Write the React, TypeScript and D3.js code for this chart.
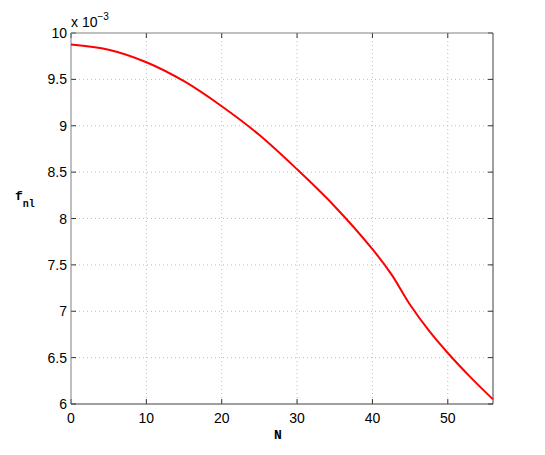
import React, { useEffect, useRef } from 'react';
import * as d3 from 'd3';

const nValues = [0, 5, 10, 15, 20, 25, 30, 35, 40, 42.5, 45, 47.5, 50, 53, 56];
const fnlValues = [9.875, 9.82, 9.685, 9.48, 9.21, 8.9, 8.53, 8.13, 7.67, 7.4, 7.07, 6.79, 6.55, 6.29, 6.05];
const xTicks = [0, 10, 20, 30, 40, 50];
const yTicks = [6, 6.5, 7, 7.5, 8, 8.5, 9, 9.5, 10];

const width = 545, height = 455;
const margin = { left: 71, right: 52, top: 33, bottom: 51 };

const App = () => {
    const ref = useRef<SVGGElement>(null);

    useEffect(() => {
        const w = width - margin.left - margin.right;
        const h = height - margin.top - margin.bottom;
        const x = d3.scaleLinear().domain([0, 56]).range([0, w]);
        const y = d3.scaleLinear().domain([6, 10]).range([h, 0]);

        const g = d3.select(ref.current);
        g.selectAll('*').remove();

        // grid
        g.selectAll('.gx').data(xTicks.slice(1)).enter().append('line')
            .attr('x1', d => x(d)).attr('x2', d => x(d))
            .attr('y1', 0).attr('y2', h)
            .attr('stroke', '#bdbdbd').attr('stroke-dasharray', '1,3');
        g.selectAll('.gy').data(yTicks.slice(1, -1)).enter().append('line')
            .attr('y1', d => y(d)).attr('y2', d => y(d))
            .attr('x1', 0).attr('x2', w)
            .attr('stroke', '#bdbdbd').attr('stroke-dasharray', '1,3');

        // inward ticks, all four sides
        const tl = 5;
        xTicks.forEach(t => {
            g.append('line').attr('x1', x(t)).attr('x2', x(t)).attr('y1', h).attr('y2', h - tl).attr('stroke', '#333');
            g.append('line').attr('x1', x(t)).attr('x2', x(t)).attr('y1', 0).attr('y2', tl).attr('stroke', '#333');
        });
        yTicks.forEach(t => {
            g.append('line').attr('y1', y(t)).attr('y2', y(t)).attr('x1', 0).attr('x2', tl).attr('stroke', '#333');
            g.append('line').attr('y1', y(t)).attr('y2', y(t)).attr('x1', w).attr('x2', w - tl).attr('stroke', '#333');
        });

        // box
        g.append('line').attr('x1', 0).attr('x2', w).attr('y1', 0).attr('y2', 0).attr('stroke', '#808080');
        g.append('line').attr('x1', 0).attr('x2', 0).attr('y1', 0).attr('y2', h).attr('stroke', '#808080');
        g.append('line').attr('x1', 0).attr('x2', w).attr('y1', h).attr('y2', h).attr('stroke', '#404040');
        g.append('line').attr('x1', w).attr('x2', w).attr('y1', 0).attr('y2', h).attr('stroke', '#404040');

        // tick labels
        const font = 'Liberation Sans, Arial, sans-serif';
        g.selectAll('.xl').data(xTicks).enter().append('text')
            .attr('x', d => x(d)).attr('y', h + 19)
            .attr('text-anchor', 'middle').attr('font-family', font).attr('font-size', 14)
            .attr('fill', '#000').text(d => d);
        g.selectAll('.yl').data(yTicks).enter().append('text')
            .attr('x', -4).attr('y', d => y(d) + 5)
            .attr('text-anchor', 'end').attr('font-family', font).attr('font-size', 14)
            .attr('fill', '#000').text(d => d);

        // exponent
        const ex = g.append('text').attr('x', 0).attr('y', -6)
            .attr('font-family', font).attr('font-size', 14).attr('fill', '#000');
        ex.append('tspan').text('x 10');
        ex.append('tspan').attr('dy', -7).attr('font-size', 10).text('\u22123');

        // curve
        const line = d3.line<number>()
            .x((d, i) => x(nValues[i]))
            .y(d => y(d))
            .curve(d3.curveCatmullRom.alpha(0.5));
        g.append('path').attr('d', line(fnlValues))
            .attr('fill', 'none').attr('stroke', '#ff0000').attr('stroke-width', 2);

        // axis labels
        const mono = 'Liberation Mono, Courier New, monospace';
        g.append('text').attr('x', 207).attr('y', h + 35)
            .attr('text-anchor', 'middle').attr('font-family', mono).attr('font-weight', 'bold')
            .attr('font-size', 13).attr('fill', '#000').text('N');
        const yl = g.append('text').attr('x', -56).attr('y', 167)
            .attr('font-family', mono).attr('font-weight', 'bold')
            .attr('font-size', 13).attr('fill', '#000');
        yl.append('tspan').text('f');
        yl.append('tspan').attr('dy', 7).attr('font-size', 10).text('nl');
    }, []);

    return (
        <svg width={width} height={height} style={{ position: 'absolute', left: 0, top: 0, background: '#fff' }}>
            <g ref={ref} transform={`translate(${margin.left},${margin.top})`} />
        </svg>
    );
};

export default App;
